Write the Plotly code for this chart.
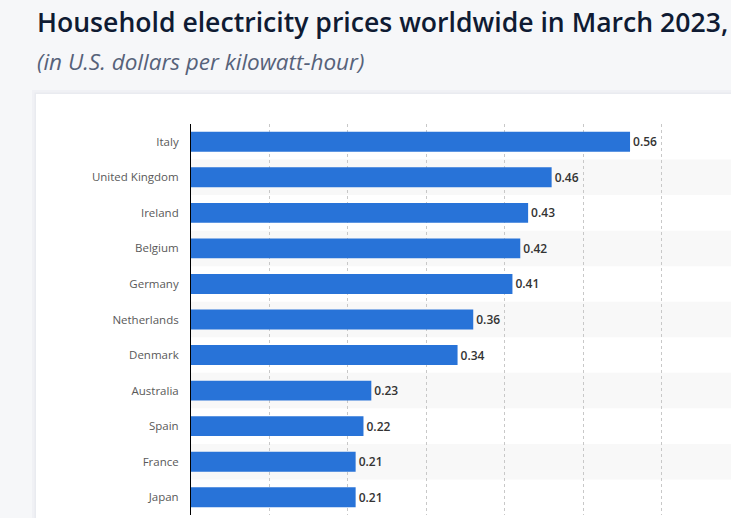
import plotly.graph_objects as go

countries = ["Italy", "United Kingdom", "Ireland", "Belgium", "Germany", "Netherlands",
             "Denmark", "Australia", "Spain", "France", "Japan"]
prices = [0.56, 0.46, 0.43, 0.42, 0.41, 0.36, 0.34, 0.23, 0.22, 0.21, 0.21]

title_text = "Household electricity prices worldwide in March 2023,"
subtitle_text = "(in U.S. dollars per kilowatt-hour)"

W, H = 731, 518
ML, MR, MT, MB = 191, 0, 124, 3
PW, PH = W - ML - MR, H - MT - MB

def px_x(x):
    return (x - ML) / PW

def px_y(y):
    return (H - MB - y) / PH

fig = go.Figure()
fig.add_trace(go.Bar(
    x=prices, y=countries, orientation="h",
    marker=dict(color="#2873d8", line=dict(width=0)),
    width=0.56,
    text=[f"{v:.2f}" for v in prices],
    textposition="outside",
    textfont=dict(family="Open Sans", size=12, color="#333333", weight=600),
    cliponaxis=False,
    hoverinfo="skip",
))

shapes = []
# card shadow + card
shapes.append(dict(type="rect", xref="paper", yref="paper",
                   x0=px_x(32), x1=px_x(760), y0=px_y(560), y1=px_y(90),
                   fillcolor="#f0f1f5", line=dict(width=0), layer="below"))
shapes.append(dict(type="rect", xref="paper", yref="paper",
                   x0=px_x(34.5), x1=px_x(760), y0=px_y(560), y1=px_y(92.5),
                   fillcolor="#e9ebf0", line=dict(width=0), layer="below"))
shapes.append(dict(type="rect", xref="paper", yref="paper",
                   x0=px_x(36), x1=px_x(760), y0=px_y(560), y1=px_y(94),
                   fillcolor="#ffffff", line=dict(width=0), layer="below"))
# alternating row bands
for i in range(1, len(countries), 2):
    shapes.append(dict(type="rect", xref="paper", yref="y",
                       x0=0, x1=1, y0=i - 0.5, y1=i + 0.5,
                       fillcolor="#f8f8f8", line=dict(width=0), layer="below"))

annotations = [
    dict(text=title_text, xref="paper", yref="paper", x=px_x(34.5), y=px_y(22),
         xanchor="left", yanchor="middle", showarrow=False,
         font=dict(family="Open Sans", size=26.6, color="#0f1b33", weight=600)),
    dict(text="<i>" + subtitle_text + "</i>", xref="paper", yref="paper", x=px_x(34.5), y=px_y(62),
         xanchor="left", yanchor="middle", showarrow=False,
         font=dict(family="Open Sans", size=22.5, color="#56627a")),
]

fig.update_layout(
    width=W, height=H,
    margin=dict(l=ML, r=MR, t=MT, b=MB, pad=0),
    paper_bgcolor="#f6f7f9",
    plot_bgcolor="#ffffff",
    showlegend=False,
    bargap=0.44,
    shapes=shapes,
    annotations=annotations,
    font=dict(family="Open Sans"),
    xaxis=dict(range=[0, (W - ML) / 784.0], showticklabels=False, ticks="",
               showgrid=True, gridcolor="#c8c8c8", griddash="dot", gridwidth=1,
               dtick=0.1, tick0=0, zeroline=False, showline=False, fixedrange=True),
    yaxis=dict(autorange="reversed", showline=True, linecolor="#000000", linewidth=1,
               ticks="", ticklabelstandoff=9, showgrid=False,
               tickfont=dict(family="Open Sans", size=11.5, color="#595959"), fixedrange=True),
)

fig.write_html(
    "out.html",
    config={"displayModeBar": False},
    post_script="document.body.style.margin='0';document.body.style.overflow='hidden';",
)
